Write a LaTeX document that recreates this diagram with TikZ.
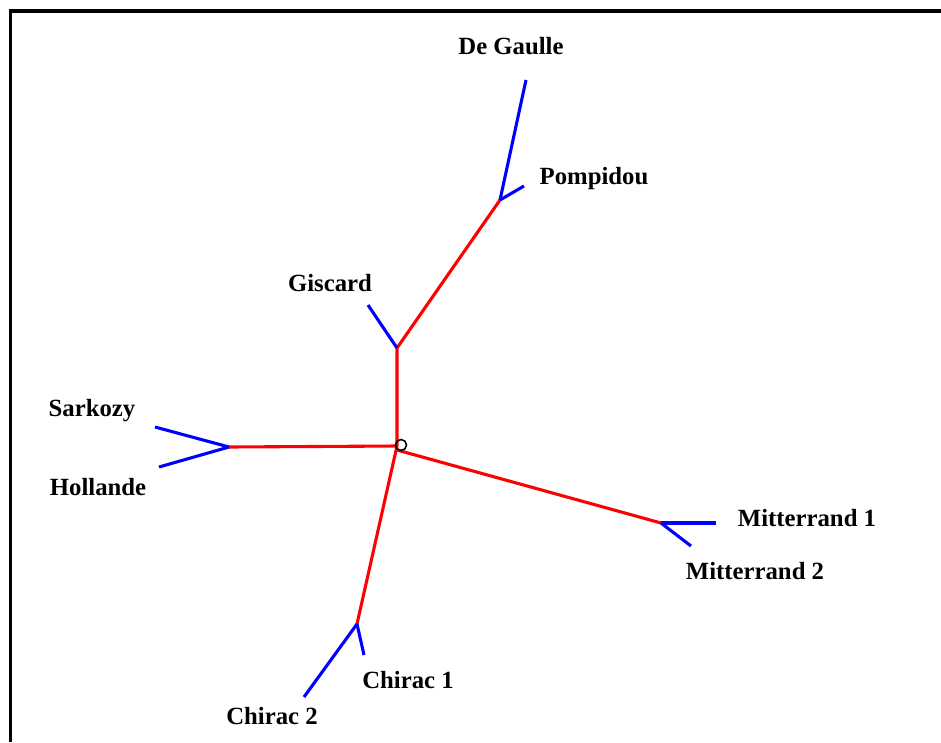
\documentclass[tikz,border=0pt]{standalone}
\usepackage{fontspec}
\setmainfont{Liberation Serif}
\tikzset{
	inner/.style={red, line width=2.2pt},
	leaf/.style={blue, line width=2.2pt},
	lab/.style={font=\bfseries\fontsize{17.6}{20}\selectfont, inner sep=0pt}
}
\begin{document}
\begin{tikzpicture}[x=0.25mm, y=-0.25mm]
			\useasboundingbox (0,0) rectangle (941,742);
			\draw[line width=2.2pt](10.5,742)--(10.5,11)--(941,11);
			
			% inner junctions
			\coordinate[](root) at (397,446) ;
			\coordinate[](giscardj) at (397,348) ;
			\coordinate[](pompj) at (500,200) ;
			\coordinate[](sarkj) at (229,447) ;
			\coordinate[](mittj) at (661,523) ;
			\coordinate[](chiracj) at (357,624) ;
			
			% leaf ends
			\coordinate[](degaulle) at (526,80) ;
			\coordinate[](pompidou) at (524,186) ;
			\coordinate[](giscard) at (368,305) ;
			\coordinate[](sarkozy) at (155,427) ;
			\coordinate[](hollande) at (159,467) ;
			\coordinate[](mitt1) at (716,523) ;
			\coordinate[](mitt2) at (691,546) ;
			\coordinate[](chirac1) at (364,655) ;
			\coordinate[](chirac2) at (304,697) ;
			
			\node[lab](ldegaulle) at (511,46) {De Gaulle};
			\node[lab](lpompidou) at (594,179) {Pompidou};
			\node[lab](lgiscard) at (330,283) {Giscard};
			\node[lab](lsarkozy) at (92,411) {Sarkozy};
			\node[lab](lhollande) at (98,487) {Hollande};
			\node[lab](lmitt1) at (807,518) {Mitterrand 1};
			\node[lab](lmitt2) at (755,571) {Mitterrand 2};
			\node[lab](lchirac1) at (408,680) {Chirac 1};
			\node[lab](lchirac2) at (272,716) {Chirac 2};
			
			\draw[inner](root)--(giscardj)--(pompj);
			\draw[inner](root)--(sarkj);
			\draw[inner]([yshift=-1mm]root)--(mittj);
			\draw[inner](root)--(chiracj);
			
			\draw[leaf](pompj)--(degaulle);
			\draw[leaf](pompj)--(pompidou);
			\draw[leaf](giscardj)--(giscard);
			\draw[leaf](sarkj)--(sarkozy);
			\draw[leaf](sarkj)--(hollande);
			\draw[leaf](mittj)--(mitt1);
			\draw[leaf](mittj)--(mitt2);
			\draw[leaf](chiracj)--(chirac1);
			\draw[leaf](chiracj)--(chirac2);
			
			\draw[line width=1.1pt](401,445) circle (5.5);
\end{tikzpicture}
\end{document}
